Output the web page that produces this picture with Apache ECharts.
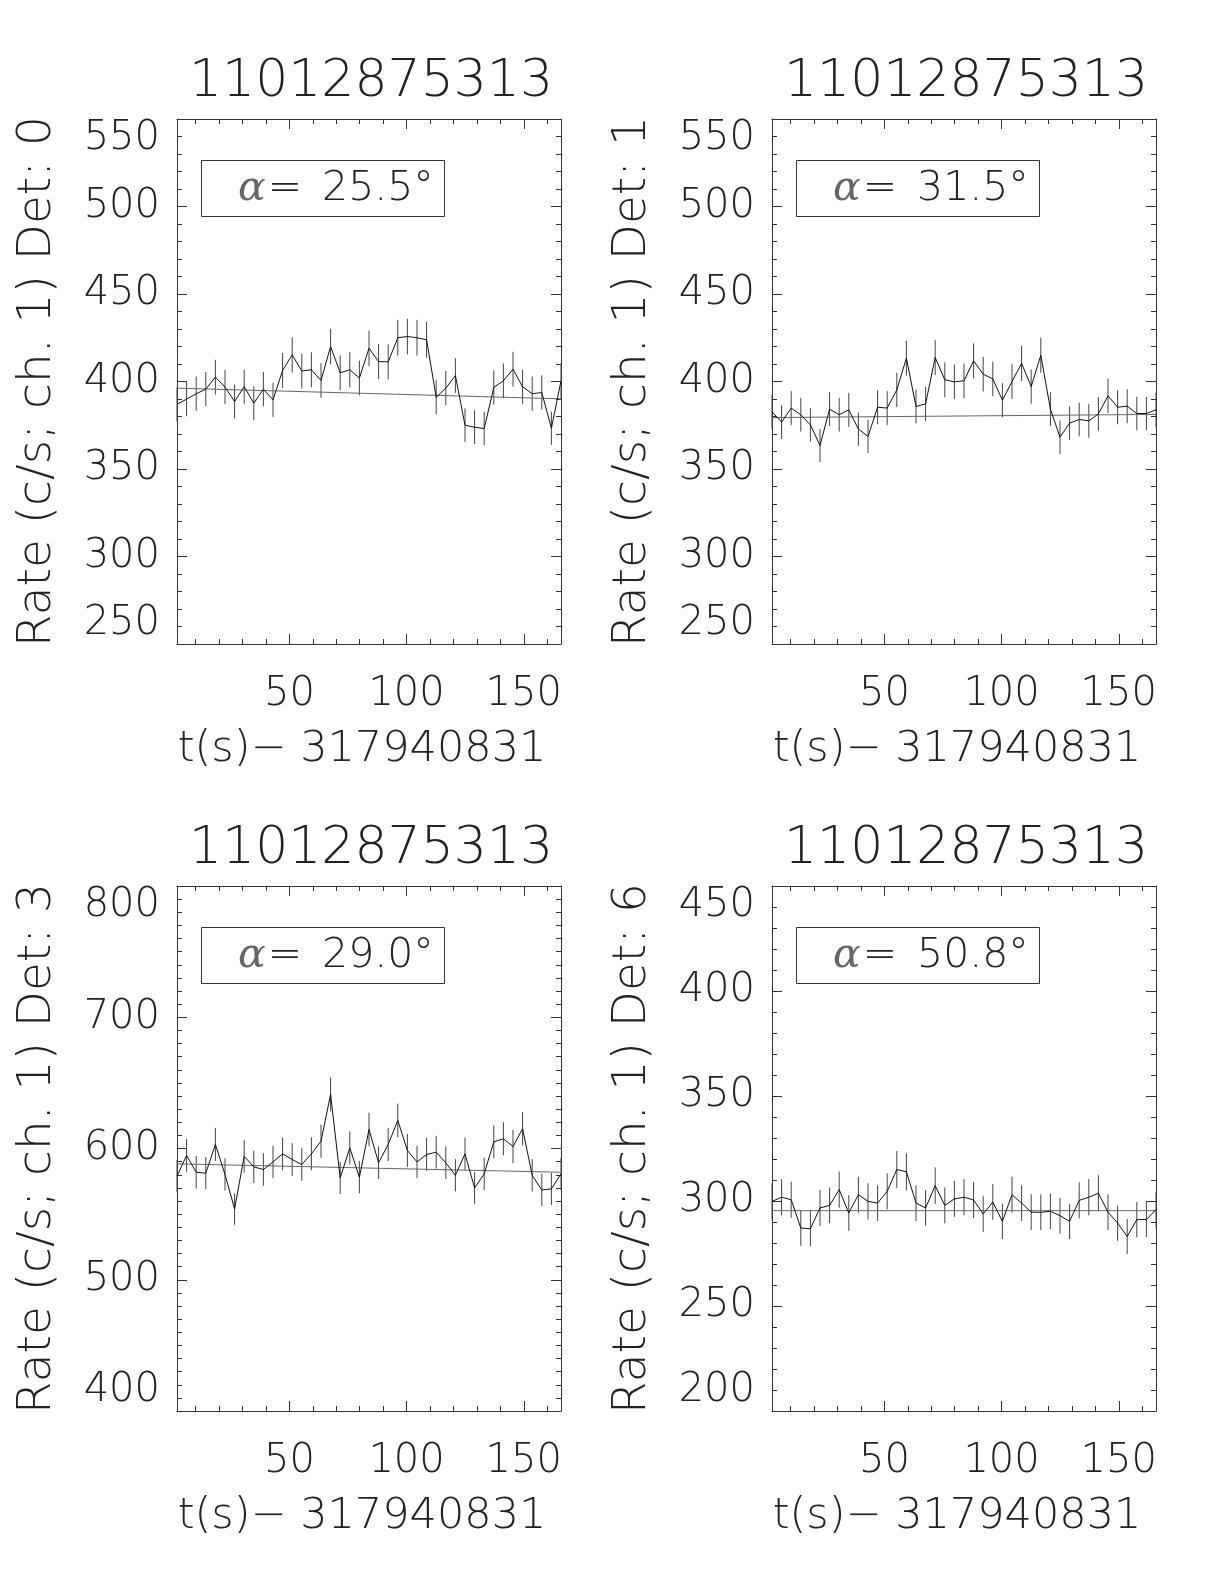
<!DOCTYPE html>
<html><head><meta charset="utf-8">
<script src="https://cdn.jsdelivr.net/npm/echarts@6/dist/echarts.min.js"></script>
<style>html,body{margin:0;padding:0;background:#fff}#c{width:1224px;height:1584px}</style>
</head><body><div id="c"></div>
<script>
// ---- data ----
const times = [2.05, 6.14, 10.24, 14.34, 18.43, 22.53, 26.62, 30.72, 34.82, 38.91, 43.01, 47.10, 51.20, 55.30, 59.39, 63.49, 67.58, 71.68, 75.78, 79.87, 83.97, 88.06, 92.16, 96.26, 100.35, 104.45, 108.54, 112.64, 116.74, 120.83, 124.93, 129.02, 133.12, 137.22, 141.31, 145.41, 149.50, 153.60, 157.70, 161.79, 165.89];
const obsId = '11012875313';
const xAxisName = 't(s)\u2212 317940831';
const detectors = ['0', '1', '3', '6'];
const alphas = ['25.5', '31.5', '29.0', '50.8'];

const rateDet0 = [387.0, 389.9, 393.0, 395.6, 402.5, 396.8, 388.6, 397.0, 387.6, 395.6, 389.5, 406.3, 415.2, 406.0, 406.7, 400.6, 420.0, 405.0, 406.7, 402.0, 419.0, 411.4, 411.2, 425.0, 425.7, 425.0, 423.8, 391.0, 396.2, 403.4, 375.0, 373.9, 373.1, 396.6, 400.4, 407.0, 397.0, 393.0, 393.7, 373.3, 400.4];
const errDet0 = [9.7, 9.8, 9.8, 9.8, 9.9, 9.8, 9.7, 9.8, 9.7, 9.8, 9.8, 10.0, 10.1, 10.0, 10.0, 9.9, 10.1, 9.9, 10.0, 9.9, 10.1, 10.0, 10.0, 10.2, 10.2, 10.2, 10.2, 9.8, 9.8, 9.9, 9.6, 9.6, 9.5, 9.8, 9.9, 10.0, 9.8, 9.8, 9.8, 9.5, 9.9];
const fitDet0 = [396.2, 390.1];

const rateDet1 = [382.7, 376.8, 384.8, 381.0, 375.2, 363.4, 384.2, 381.0, 383.8, 372.8, 368.6, 385.3, 384.8, 395.2, 413.3, 385.7, 387.2, 413.7, 401.0, 399.8, 400.4, 411.8, 404.2, 401.5, 389.3, 400.0, 410.3, 397.1, 415.0, 384.2, 368.2, 376.2, 378.3, 377.5, 381.5, 391.8, 385.3, 385.9, 381.7, 381.7, 383.8];
const errDet1 = [9.7, 9.6, 9.7, 9.6, 9.6, 9.4, 9.7, 9.6, 9.7, 9.5, 9.5, 9.7, 9.7, 9.8, 10.0, 9.7, 9.8, 10.0, 9.9, 9.9, 9.9, 10.0, 9.9, 9.9, 9.8, 9.9, 10.0, 9.8, 10.1, 9.7, 9.5, 9.6, 9.6, 9.6, 9.6, 9.8, 9.7, 9.7, 9.6, 9.6, 9.7];
const fitDet1 = [379.4, 381.2];

const rateDet3 = [578.9, 594.7, 581.9, 581.2, 603.1, 580.2, 553.9, 594.1, 586.0, 584.0, 589.8, 595.9, 591.6, 587.8, 595.9, 605.6, 641.2, 577.6, 600.5, 578.1, 614.5, 589.1, 603.1, 621.4, 598.5, 589.8, 595.4, 597.2, 589.1, 579.6, 595.9, 570.0, 580.7, 605.1, 607.4, 601.5, 615.0, 579.6, 568.4, 569.2, 580.7];
const errDet3 = [12.3, 12.5, 12.4, 12.3, 12.6, 12.3, 12.0, 12.5, 12.4, 12.4, 12.4, 12.5, 12.5, 12.4, 12.5, 12.6, 13.0, 12.3, 12.5, 12.3, 12.7, 12.4, 12.6, 12.8, 12.5, 12.4, 12.5, 12.5, 12.4, 12.3, 12.5, 12.2, 12.3, 12.6, 12.6, 12.6, 12.7, 12.3, 12.2, 12.2, 12.3];
const fitDet3 = [588.3, 581.9];

const rateDet6 = [299.8, 301.8, 300.6, 287.1, 286.8, 296.7, 297.9, 305.4, 294.3, 303.0, 299.8, 299.0, 304.6, 315.0, 313.9, 299.0, 296.7, 307.3, 297.9, 301.0, 301.8, 300.5, 293.8, 299.5, 290.3, 303.0, 299.0, 294.7, 294.6, 295.1, 293.0, 290.3, 300.3, 301.8, 303.7, 294.7, 289.5, 283.1, 291.1, 291.2, 295.9];
const errDet6 = [8.6, 8.6, 8.6, 8.4, 8.4, 8.5, 8.5, 8.6, 8.5, 8.6, 8.6, 8.5, 8.6, 8.8, 8.8, 8.5, 8.5, 8.7, 8.5, 8.6, 8.6, 8.6, 8.5, 8.5, 8.4, 8.6, 8.5, 8.5, 8.5, 8.5, 8.5, 8.4, 8.6, 8.6, 8.6, 8.5, 8.4, 8.3, 8.4, 8.4, 8.5];
const fitDet6 = [295.4, 295.4];

const yMins = [250, 250, 400, 200];
const yMaxs = [550, 550, 800, 450];
const yIntervals = [50, 50, 100, 50];
const yMinorSplits = [5, 5, 10, 5];
const xMajorTicks = [50, 100, 150];
const xMinorTicks = [10, 20, 30, 40, 60, 70, 80, 90, 110, 120, 130, 140, 160];

const rates = [rateDet0, rateDet1, rateDet3, rateDet6];
const errs = [errDet0, errDet1, errDet3, errDet6];
const fits = [fitDet0, fitDet1, fitDet3, fitDet6];

// ---- layout / style ----
const FONT = 'DejaVu Sans';
const FW = 200;
const TXT = '#222';
const AX = '#333';
const colLefts = [177, 772];
const rowTops = [119, 886];
const PW = 384, PH = 525;

const grids = [], xAxes = [], yAxes = [], series = [], graphics = [];

for (let i = 0; i < 4; i++) {
  const col = i % 2, row = Math.floor(i / 2);
  const L = colLefts[col], T = rowTops[row];
  grids.push({left: L, top: T, width: PW, height: PH, show: false, containLabel: false, outerBoundsMode: 'none'});
  const xmin = times[0], xmax = times[times.length - 1];
  const baseX = {type: 'value', gridIndex: i, min: xmin, max: xmax, splitLine: {show: false}};
  xAxes.push(Object.assign({}, baseX, {
    position: 'bottom',
    axisLine: {show: true, onZero: false, lineStyle: {color: AX, width: 1}},
    axisTick: {show: true, inside: true, length: 10, customValues: xMajorTicks, lineStyle: {color: AX}},
    axisLabel: {show: true, customValues: xMajorTicks, margin: 31, fontSize: 40, fontFamily: FONT, fontWeight: FW, color: TXT},
    name: xAxisName, nameLocation: 'middle', nameGap: 84,
    nameTextStyle: {fontSize: 43, fontFamily: FONT, fontWeight: FW, color: TXT, padding: [0, 14, 0, 0]}
  }));
  xAxes.push(Object.assign({}, baseX, {
    position: 'bottom',
    axisLine: {show: false, onZero: false},
    axisTick: {show: true, inside: true, length: 5, customValues: xMinorTicks, lineStyle: {color: AX}},
    axisLabel: {show: false}
  }));
  xAxes.push(Object.assign({}, baseX, {
    position: 'top',
    axisLine: {show: true, onZero: false, lineStyle: {color: AX, width: 1}},
    axisTick: {show: true, inside: true, length: 10, customValues: xMajorTicks, lineStyle: {color: AX}},
    axisLabel: {show: false}
  }));
  xAxes.push(Object.assign({}, baseX, {
    position: 'top',
    axisLine: {show: false, onZero: false},
    axisTick: {show: true, inside: true, length: 5, customValues: xMinorTicks, lineStyle: {color: AX}},
    axisLabel: {show: false}
  }));

  const baseY = {type: 'value', gridIndex: i, min: yMins[i], max: yMaxs[i], interval: yIntervals[i], splitLine: {show: false},
    minorTick: {show: true, splitNumber: yMinorSplits[i], length: 5, lineStyle: {color: AX}}};
  yAxes.push(Object.assign({}, baseY, {
    position: 'left',
    axisLine: {show: true, onZero: false, lineStyle: {color: AX, width: 1}},
    axisTick: {show: true, inside: true, length: 10, lineStyle: {color: AX}},
    axisLabel: {show: true, margin: 17, fontSize: 40, fontFamily: FONT, fontWeight: FW, color: TXT,
      verticalAlignMaxLabel: 'top', verticalAlignMinLabel: 'bottom'},
    name: 'Rate (c/s; ch. 1) Det: ' + detectors[i], nameLocation: 'middle', nameRotate: 90, nameGap: 116,
    nameTextStyle: {fontSize: 47, fontFamily: FONT, fontWeight: FW, color: TXT}
  }));
  yAxes.push(Object.assign({}, baseY, {
    position: 'right',
    axisLine: {show: true, onZero: false, lineStyle: {color: AX, width: 1}},
    axisTick: {show: true, inside: true, length: 10, lineStyle: {color: AX}},
    axisLabel: {show: false}
  }));

  const xi = i * 4, yi = i * 2;
  series.push({
    type: 'custom', xAxisIndex: xi, yAxisIndex: yi, silent: true,
    data: times.map((t, j) => [t, rates[i][j], errs[i][j]]),
    renderItem: function (params, api) {
      const x = api.value(0), y = api.value(1), e = api.value(2);
      const p1 = api.coord([x, y - e]), p2 = api.coord([x, y + e]);
      return {type: 'line', shape: {x1: p1[0], y1: p1[1], x2: p2[0], y2: p2[1]},
        style: {stroke: '#444', lineWidth: 1}};
    }
  });
  series.push({
    type: 'line', xAxisIndex: xi, yAxisIndex: yi, silent: true,
    data: [[times[0], fits[i][0]], [times[times.length - 1], fits[i][1]]],
    symbol: 'none', lineStyle: {color: '#666', width: 1}
  });
  series.push({
    type: 'line', xAxisIndex: xi, yAxisIndex: yi, silent: true,
    data: times.map((t, j) => [t, rates[i][j]]),
    symbol: 'none', lineStyle: {color: '#111', width: 1}
  });

  graphics.push({type: 'text', x: L + PW / 2 + 2, y: T - 37,
    style: {text: obsId, fontSize: 52, fontFamily: FONT, fontWeight: FW, fill: TXT, align: 'center', verticalAlign: 'middle'}});
  graphics.push({type: 'rect', shape: {x: L + 24.5, y: T + 41.5, width: 243, height: 56},
    style: {fill: null, stroke: AX, lineWidth: 1}});
  graphics.push({type: 'text', x: L + 61, y: T + 70,
    style: {text: '{a|\u03b1}{e|=}{b| ' + alphas[i] + '\u00b0}', align: 'left', verticalAlign: 'middle',
      rich: {
        a: {fontSize: 41, fontFamily: 'DejaVu Serif', fontStyle: 'italic', fontWeight: 'normal', fill: '#666', color: '#666', padding: [0, 2, 0, 0]},
        e: {fontSize: 41, fontFamily: FONT, fontWeight: FW, fill: TXT, color: TXT, padding: [0, 7, 0, 0]},
        b: {fontSize: 41, fontFamily: FONT, fontWeight: FW, fill: TXT, color: TXT}
      }}});
}

const chart = echarts.init(document.getElementById('c'), null, {renderer: 'canvas'});
chart.setOption({
  animation: false,
  backgroundColor: '#fff',
  grid: grids, xAxis: xAxes, yAxis: yAxes, series: series, graphic: graphics
});
</script>
</body></html>
